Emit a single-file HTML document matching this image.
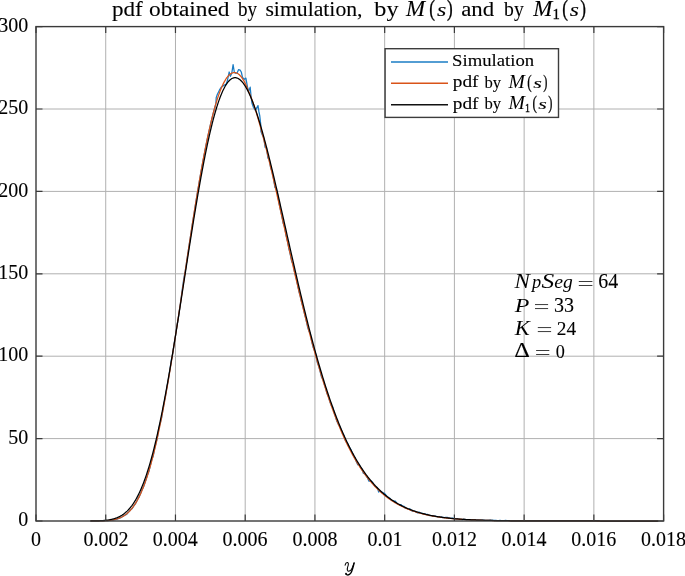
<!DOCTYPE html>
<html><head><meta charset="utf-8"><style>html,body{margin:0;padding:0;background:#fff;width:685px;height:576px;overflow:hidden}</style></head>
<body><svg width="685" height="576" viewBox="0 0 685 576" style="display:block;font-kerning:none;will-change:transform"><rect x="0" y="0" width="685" height="576" fill="#fff"/>
<path d="M105.73,26.60V521.00M175.47,26.60V521.00M245.20,26.60V521.00M314.93,26.60V521.00M384.67,26.60V521.00M454.40,26.60V521.00M524.13,26.60V521.00M593.87,26.60V521.00M36.00,438.60H663.60M36.00,356.20H663.60M36.00,273.80H663.60M36.00,191.40H663.60M36.00,109.00H663.60" stroke="#b0b0b0" stroke-width="1.0" fill="none"/>
<path d="M90.39,521.00 L91.79,520.99 L93.18,520.99 L94.58,520.98 L95.97,520.97 L97.37,520.96 L98.76,520.94 L100.15,520.92 L101.55,520.88 L102.94,520.84 L104.34,520.78 L105.73,520.67 L107.13,520.59 L108.52,520.53 L109.92,520.32 L111.31,520.08 L112.71,520.03 L114.10,519.68 L115.50,519.53 L116.89,519.09 L118.29,518.73 L119.68,517.97 L121.07,517.53 L122.47,516.54 L123.86,515.73 L125.26,514.86 L126.65,514.35 L128.05,512.68 L129.44,511.19 L130.84,509.62 L132.23,508.45 L133.63,506.24 L135.02,504.36 L136.42,502.04 L137.81,498.78 L139.21,496.85 L140.60,493.55 L141.99,489.89 L143.39,487.18 L144.78,483.22 L146.18,479.12 L147.57,474.89 L148.97,471.19 L150.36,465.56 L151.76,459.58 L153.15,456.29 L154.55,448.87 L155.94,443.51 L157.34,437.93 L158.73,429.24 L160.13,423.54 L161.52,418.32 L162.91,409.91 L164.31,401.94 L165.70,394.97 L167.10,386.14 L168.49,378.78 L169.89,369.64 L171.28,360.23 L172.68,353.96 L174.07,344.11 L175.47,335.96 L176.86,326.16 L178.26,318.68 L179.65,308.67 L181.05,298.88 L182.44,288.05 L183.83,278.33 L185.23,271.19 L186.62,261.87 L188.02,252.59 L189.41,243.38 L190.81,234.25 L192.20,225.22 L193.60,216.31 L194.99,207.54 L196.39,198.93 L197.78,190.50 L199.18,182.26 L200.57,174.22 L201.97,166.42 L203.36,158.85 L204.75,151.54 L206.15,144.49 L207.54,137.73 L208.94,131.26 L210.33,125.09 L211.73,119.24 L213.12,113.70 L214.52,108.50 L215.91,103.64 L216.20,97.60 L217.40,94.20 L219.40,90.20 L221.30,87.20 L223.70,85.40 L226.10,84.20 L227.30,81.10 L229.20,72.00 L230.40,76.30 L231.80,73.20 L233.10,64.70 L234.30,72.00 L235.50,73.20 L237.00,73.20 L238.60,69.60 L240.10,70.20 L241.30,72.00 L242.50,77.50 L244.40,79.30 L245.90,78.10 L247.40,86.60 L248.60,91.50 L250.20,87.20 L251.10,96.90 L251.90,103.00 L253.50,107.50 L255.40,110.40 L258.00,105.60 L258.90,111.70 L259.80,116.00 L260.80,125.00 L260.94,131.48 L262.33,135.07 L263.73,137.73 L265.12,147.50 L266.51,147.88 L267.91,158.01 L269.30,159.49 L270.70,168.07 L272.09,171.29 L273.49,178.40 L274.88,187.23 L276.28,188.80 L277.67,194.70 L279.07,203.36 L280.46,209.94 L281.86,216.03 L283.25,223.58 L284.65,226.66 L286.04,235.46 L287.43,240.99 L288.83,248.36 L290.25,254.34 L291.68,261.48 L293.11,264.00 L294.54,272.15 L295.97,276.67 L297.41,284.03 L298.84,290.98 L300.27,296.39 L301.70,302.55 L303.12,307.58 L304.55,313.79 L305.98,319.33 L307.41,326.24 L308.84,330.99 L310.26,333.36 L311.69,341.50 L313.12,347.16 L314.53,350.65 L315.93,354.46 L317.32,362.68 L318.72,366.11 L320.11,371.33 L321.51,377.20 L322.90,379.07 L324.30,384.35 L325.69,388.62 L327.09,393.73 L328.48,396.68 L329.87,401.74 L331.27,405.33 L332.66,406.90 L334.06,412.63 L335.45,416.47 L336.85,421.24 L338.24,424.07 L339.64,426.18 L341.03,429.52 L342.43,433.07 L343.82,435.17 L345.22,440.25 L346.61,442.37 L348.01,444.33 L349.40,447.27 L350.79,449.41 L352.19,452.80 L353.58,456.14 L354.98,457.82 L356.37,461.77 L357.77,464.81 L359.16,464.47 L360.56,467.36 L361.95,469.02 L363.35,473.34 L364.74,473.77 L366.14,475.91 L367.53,478.01 L368.93,481.23 L370.32,480.89 L371.71,481.28 L373.11,483.40 L374.50,485.89 L375.90,486.80 L377.29,487.50 L378.69,492.09 L380.08,491.00 L381.48,491.69 L382.87,492.80 L384.27,493.14 L385.66,494.76 L387.06,496.53 L388.45,497.59 L389.85,498.23 L391.24,500.20 L392.63,500.75 L394.03,500.97 L395.42,501.10 L396.82,503.40 L398.21,504.11 L399.61,504.71 L401.00,504.71 L402.40,506.28 L403.79,506.03 L405.19,508.14 L406.58,508.28 L407.98,508.87 L409.37,508.89 L410.77,509.30 L412.16,511.17 L413.55,511.34 L414.95,511.17 L416.34,512.11 L417.74,512.95 L419.13,512.15 L420.53,512.81 L421.92,513.19 L423.32,513.97 L424.71,513.68 L426.11,514.54 L427.50,514.32 L428.90,515.41 L430.29,515.67 L431.69,515.54 L433.08,516.13 L434.47,515.89 L435.87,516.27 L437.26,516.90 L438.66,516.78 L440.05,517.12 L441.45,516.92 L442.84,517.59 L444.24,517.70 L445.63,517.39 L447.03,517.28 L448.42,517.51 L449.82,518.19 L451.21,518.29 L452.61,518.09 L454.00,518.64 L455.39,518.96 L456.79,518.81 L458.18,518.85 L459.58,519.24 L460.97,519.50 L462.37,519.55 L463.76,519.20 L465.16,519.57 L466.55,519.53 L467.95,519.54 L469.34,519.54 L470.74,519.78 L472.13,519.70 L473.53,520.00 L474.92,519.97 L476.31,520.13 L477.71,519.84 L479.10,520.07 L480.50,520.22 L481.89,520.21 L483.29,520.24 L484.68,520.15 L486.08,520.49 L487.47,520.45 L488.87,520.40 L490.26,520.09 L491.66,520.31 L493.05,520.47 L494.45,520.40 L495.84,520.29 L497.23,520.56 L498.63,520.59 L500.02,520.46 L501.42,520.56 L502.81,520.56 L504.21,520.69 L505.60,520.49 L507.00,520.53 L508.39,520.65 L509.79,520.76 L511.18,520.78 L512.58,520.79 L513.97,520.80 L515.37,520.81 L516.76,520.82 L518.15,520.83 L519.55,520.84 L520.94,520.85 L522.34,520.86 L523.73,520.87 L525.13,520.88 L526.52,520.88 L527.92,520.89 L529.31,520.90 L530.71,520.90 L532.10,520.91 L533.50,520.91 L534.89,520.92 L536.29,520.92 L537.68,520.93 L539.07,520.93 L540.47,520.94 L541.86,520.94 L543.26,520.94 L544.65,520.95 L546.05,520.95 L547.44,520.95 L548.84,520.96 L550.23,520.96 L551.63,520.96 L553.02,520.96 L554.42,520.97 L555.81,520.97 L557.21,520.97 L558.60,520.97 L559.99,520.97 L561.39,520.98 L562.78,520.98 L564.18,520.98 L565.57,520.98 L566.97,520.98 L568.36,520.98 L569.76,520.98 L571.15,520.98 L572.55,520.98 L573.94,520.99 L575.34,520.99 L576.73,520.99 L578.13,520.99 L579.52,520.99 L580.91,520.99 L582.31,520.99 L583.70,520.99 L585.10,520.99 L586.49,520.99 L587.89,520.99 L589.28,520.99 L590.68,520.99 L592.07,520.99 L593.47,520.99 L594.86,520.99 L596.26,520.99 L597.65,521.00 L599.05,521.00 L600.44,521.00 L601.83,521.00 L603.23,521.00 L604.62,521.00 L606.02,521.00 L607.41,521.00 L608.81,521.00 L610.20,521.00 L611.60,521.00 L612.99,521.00 L614.39,521.00 L615.78,521.00 L617.18,521.00 L618.57,521.00 L619.97,521.00 L621.36,521.00 L622.75,521.00 L624.15,521.00 L625.54,521.00 L626.94,521.00 L628.33,521.00 L629.73,521.00 L631.12,521.00 L632.52,521.00 L633.91,521.00 L635.31,521.00 L636.70,521.00 L638.10,521.00 L639.49,521.00 L640.89,521.00 L642.28,521.00 L643.67,521.00 L645.07,521.00 L646.46,521.00 L647.86,521.00 L649.25,521.00 L650.65,521.00 L652.04,521.00 L653.44,521.00 L654.83,521.00 L656.23,521.00 L657.62,521.00" stroke="#1a7cc4" stroke-width="1.25" fill="none" stroke-linejoin="round"/>
<path d="M90.39,521.00 L90.91,520.99 L91.43,520.99 L91.94,520.99 L92.46,520.99 L92.98,520.99 L93.49,520.99 L94.01,520.99 L94.53,520.98 L95.04,520.98 L95.56,520.98 L96.08,520.97 L96.59,520.97 L97.11,520.96 L97.63,520.96 L98.14,520.95 L98.66,520.94 L99.18,520.94 L99.69,520.93 L100.21,520.92 L100.73,520.90 L101.25,520.89 L101.76,520.88 L102.28,520.86 L102.80,520.85 L103.31,520.83 L103.83,520.81 L104.35,520.78 L104.86,520.76 L105.38,520.73 L105.90,520.70 L106.41,520.67 L106.93,520.63 L107.45,520.59 L107.96,520.55 L108.48,520.50 L109.00,520.45 L109.51,520.40 L110.03,520.34 L110.55,520.27 L111.06,520.20 L111.58,520.13 L112.10,520.05 L112.61,519.96 L113.13,519.87 L113.65,519.77 L114.17,519.67 L114.68,519.55 L115.20,519.43 L115.72,519.30 L116.23,519.17 L116.75,519.02 L117.27,518.86 L117.78,518.70 L118.30,518.52 L118.82,518.34 L119.33,518.14 L119.85,517.93 L120.37,517.71 L120.88,517.47 L121.40,517.23 L121.92,516.97 L122.43,516.69 L122.95,516.40 L123.47,516.10 L123.98,515.78 L124.50,515.44 L125.02,515.09 L125.54,514.72 L126.05,514.33 L126.57,513.92 L127.09,513.50 L127.60,513.05 L128.12,512.58 L128.64,512.10 L129.15,511.59 L129.67,511.06 L130.19,510.51 L130.70,509.94 L131.22,509.34 L131.74,508.71 L132.25,508.07 L132.77,507.39 L133.29,506.70 L133.80,505.97 L134.32,505.22 L134.84,504.44 L135.35,503.63 L135.87,502.80 L136.39,501.93 L136.91,501.04 L137.42,500.11 L137.94,499.16 L138.46,498.17 L138.97,497.15 L139.49,496.10 L140.01,495.02 L140.52,493.91 L141.04,492.76 L141.56,491.57 L142.07,490.36 L142.59,489.11 L143.11,487.82 L143.62,486.50 L144.14,485.14 L144.66,483.75 L145.17,482.32 L145.69,480.85 L146.21,479.34 L146.72,477.80 L147.24,476.23 L147.76,474.61 L148.28,472.96 L148.79,471.27 L149.31,469.54 L149.83,467.77 L150.34,465.96 L150.86,464.12 L151.38,462.24 L151.89,460.32 L152.41,458.36 L152.93,456.36 L153.44,454.32 L153.96,452.25 L154.48,450.14 L154.99,447.99 L155.51,445.80 L156.03,443.57 L156.54,441.30 L157.06,439.00 L157.58,436.66 L158.09,434.28 L158.61,431.87 L159.13,429.42 L159.65,426.93 L160.16,424.41 L160.68,421.85 L161.20,419.26 L161.71,416.63 L162.23,413.97 L162.75,411.27 L163.26,408.54 L163.78,405.78 L164.30,402.99 L164.81,400.16 L165.33,397.30 L165.85,394.42 L166.36,391.50 L166.88,388.55 L167.40,385.57 L167.91,382.57 L168.43,379.54 L168.95,376.48 L169.46,373.39 L169.98,370.28 L170.50,367.15 L171.01,363.99 L171.53,360.81 L172.05,357.60 L172.57,354.38 L173.08,351.13 L173.60,347.87 L174.12,344.58 L174.63,341.28 L175.15,337.96 L175.67,334.63 L176.18,331.28 L176.70,327.91 L177.22,324.54 L177.73,321.15 L178.25,317.74 L178.77,314.33 L179.28,310.91 L179.80,307.48 L180.32,304.04 L180.83,300.60 L181.35,297.15 L181.87,293.69 L182.38,290.24 L182.90,286.78 L183.42,283.31 L183.94,279.85 L184.45,276.39 L184.97,272.93 L185.49,269.47 L186.00,266.02 L186.52,262.57 L187.04,259.12 L187.55,255.69 L188.07,252.26 L188.59,248.83 L189.10,245.42 L189.62,242.02 L190.14,238.63 L190.65,235.26 L191.17,231.89 L191.69,228.54 L192.20,225.21 L192.72,221.90 L193.24,218.60 L193.75,215.32 L194.27,212.06 L194.79,208.82 L195.31,205.60 L195.82,202.40 L196.34,199.23 L196.86,196.08 L197.37,192.95 L197.89,189.85 L198.41,186.78 L198.92,183.74 L199.44,180.72 L199.96,177.73 L200.47,174.78 L200.99,171.85 L201.51,168.96 L202.02,166.09 L202.54,163.27 L203.06,160.47 L203.57,157.71 L204.09,154.98 L204.61,152.29 L205.12,149.64 L205.64,147.03 L206.16,144.45 L206.68,141.91 L207.19,139.41 L207.71,136.95 L208.23,134.53 L208.74,132.15 L209.26,129.81 L209.78,127.52 L210.29,125.27 L210.81,123.06 L211.33,120.89 L211.84,118.77 L212.36,116.69 L212.88,114.66 L213.39,112.67 L213.91,110.73 L214.43,108.83 L214.94,106.98 L215.46,105.18 L215.98,103.42 L216.49,101.71 L217.01,100.05 L217.53,98.43 L218.04,96.87 L218.56,95.35 L219.08,93.88 L219.60,92.46 L220.11,91.08 L220.63,89.76 L221.15,88.49 L221.66,87.26 L222.18,86.09 L222.70,84.96 L223.21,83.88 L223.73,82.85 L224.25,81.87 L224.76,80.95 L225.28,80.07 L225.80,79.24 L226.31,78.46 L226.83,77.72 L227.35,77.04 L227.86,76.41 L228.38,75.82 L228.90,75.29 L229.41,74.80 L229.93,74.37 L230.45,73.98 L230.97,73.64 L231.48,73.35 L232.00,73.10 L232.52,72.91 L233.03,72.76 L233.55,72.66 L234.07,72.60 L234.55,72.59 L235.06,72.63 L235.58,72.72 L236.09,72.85 L236.59,73.03 L237.10,73.25 L237.60,73.52 L238.10,73.83 L238.60,74.18 L239.09,74.58 L239.58,75.03 L240.07,75.52 L240.56,76.05 L241.05,76.62 L241.53,77.23 L242.01,77.89 L242.49,78.58 L242.96,79.32 L243.44,80.10 L243.91,80.92 L244.38,81.77 L244.84,82.67 L245.31,83.60 L245.77,84.57 L246.23,85.58 L246.69,86.63 L247.15,87.71 L247.60,88.83 L248.05,89.99 L248.57,91.18 L249.09,92.40 L249.60,93.66 L250.12,94.95 L250.64,96.27 L251.15,97.63 L251.67,99.02 L252.19,100.44 L252.71,101.89 L253.22,103.37 L253.74,104.88 L254.26,106.42 L254.77,107.98 L255.29,109.58 L255.81,111.20 L256.32,112.85 L256.84,114.53 L257.36,116.23 L257.87,117.96 L258.39,119.71 L258.91,121.49 L259.42,123.29 L259.94,125.11 L260.46,126.96 L260.97,128.83 L261.49,130.72 L262.01,132.63 L262.52,134.56 L263.04,136.51 L263.56,138.48 L264.07,140.47 L264.59,142.47 L265.11,144.50 L265.63,146.54 L266.14,148.59 L266.66,150.67 L267.18,152.76 L267.69,154.86 L268.21,156.98 L268.73,159.11 L269.24,161.26 L269.76,163.42 L270.28,165.59 L270.79,167.77 L271.31,169.97 L271.83,172.17 L272.34,174.39 L272.86,176.61 L273.38,178.85 L273.89,181.09 L274.41,183.34 L274.93,185.60 L275.44,187.87 L275.96,190.15 L276.48,192.43 L277.00,194.72 L277.51,197.01 L278.03,199.31 L278.55,201.61 L279.06,203.92 L279.58,206.23 L280.10,208.54 L280.61,210.86 L281.13,213.18 L281.65,215.51 L282.16,217.83 L282.68,220.16 L283.20,222.49 L283.71,224.81 L284.23,227.14 L284.75,229.47 L285.26,231.80 L285.78,234.13 L286.30,236.45 L286.81,238.78 L287.33,241.10 L287.85,243.42 L288.37,245.74 L288.88,248.05 L289.40,250.36 L289.93,252.67 L290.46,254.97 L290.99,257.27 L291.52,259.57 L292.05,261.86 L292.58,264.15 L293.12,266.43 L293.65,268.70 L294.18,270.97 L294.71,273.23 L295.24,275.49 L295.77,277.74 L296.30,279.98 L296.83,282.22 L297.36,284.45 L297.89,286.67 L298.42,288.88 L298.95,291.08 L299.48,293.28 L300.01,295.47 L300.54,297.65 L301.07,299.82 L301.60,301.98 L302.13,304.13 L302.66,306.27 L303.19,308.40 L303.72,310.52 L304.25,312.64 L304.77,314.74 L305.30,316.83 L305.83,318.91 L306.36,320.98 L306.89,323.04 L307.42,325.09 L307.95,327.12 L308.48,329.15 L309.01,331.16 L309.54,333.17 L310.07,335.16 L310.59,337.14 L311.12,339.10 L311.65,341.06 L312.18,343.00 L312.71,344.93 L313.24,346.85 L313.76,348.76 L314.29,350.65 L314.81,352.53 L315.32,354.40 L315.84,356.26 L316.36,358.10 L316.87,359.93 L317.39,361.75 L317.91,363.55 L318.42,365.34 L318.94,367.12 L319.46,368.89 L319.97,370.64 L320.49,372.38 L321.01,374.10 L321.52,375.82 L322.04,377.52 L322.56,379.20 L323.07,380.87 L323.59,382.53 L324.11,384.18 L324.63,385.81 L325.14,387.43 L325.66,389.04 L326.18,390.63 L326.69,392.21 L327.21,393.77 L327.73,395.32 L328.24,396.86 L328.76,398.39 L329.28,399.90 L329.79,401.40 L330.31,402.88 L330.83,404.35 L331.34,405.81 L331.86,407.26 L332.38,408.69 L332.89,410.11 L333.41,411.51 L333.93,412.90 L334.44,414.28 L334.96,415.65 L335.48,417.00 L336.00,418.34 L336.51,419.67 L337.03,420.98 L337.55,422.28 L338.06,423.57 L338.58,424.84 L339.10,426.11 L339.61,427.36 L340.13,428.59 L340.65,429.82 L341.16,431.03 L341.68,432.23 L342.20,433.41 L342.71,434.59 L343.23,435.75 L343.75,436.90 L344.26,438.04 L344.78,439.16 L345.30,440.27 L345.81,441.38 L346.33,442.46 L346.85,443.54 L347.37,444.61 L347.88,445.66 L348.40,446.70 L348.92,447.73 L349.43,448.75 L349.95,449.76 L350.47,450.76 L350.98,451.74 L351.50,452.71 L352.02,453.68 L352.53,454.63 L353.05,455.57 L353.57,456.50 L354.08,457.42 L354.60,458.32 L355.12,459.22 L355.63,460.11 L356.15,460.98 L356.67,461.85 L357.18,462.70 L357.70,463.55 L358.22,464.38 L358.74,465.21 L359.25,466.02 L359.77,466.83 L360.29,467.62 L360.80,468.41 L361.32,469.18 L361.84,469.95 L362.35,470.70 L362.87,471.45 L363.39,472.19 L363.90,472.92 L364.42,473.63 L364.94,474.34 L365.45,475.04 L365.97,475.74 L366.49,476.42 L367.00,477.09 L367.52,477.76 L368.04,478.41 L368.55,479.06 L369.07,479.70 L369.59,480.33 L370.10,480.96 L370.62,481.57 L371.14,482.18 L371.66,482.78 L372.17,483.37 L372.69,483.95 L373.21,484.52 L373.72,485.09 L374.24,485.65 L374.76,486.20 L375.27,486.75 L375.79,487.28 L376.31,487.81 L376.82,488.33 L377.34,488.85 L377.86,489.36 L378.37,489.86 L378.89,490.35 L379.41,490.84 L379.92,491.32 L380.44,491.79 L380.96,492.26 L381.47,492.72 L381.99,493.17 L382.51,493.62 L383.03,494.06 L383.54,494.50 L384.06,494.93 L384.58,495.35 L385.09,495.76 L385.61,496.18 L386.13,496.58 L386.64,496.98 L387.16,497.37 L387.68,497.76 L388.19,498.14 L388.71,498.51 L389.23,498.89 L389.74,499.25 L390.26,499.61 L390.78,499.96 L391.29,500.31 L391.81,500.66 L392.33,500.99 L392.84,501.33 L393.36,501.66 L393.88,501.98 L394.40,502.30 L394.91,502.61 L395.43,502.92 L395.95,503.23 L396.46,503.53 L396.98,503.82 L397.50,504.11 L398.01,504.40 L398.53,504.68 L399.05,504.96 L399.56,505.23 L400.08,505.50 L400.60,505.76 L401.11,506.03 L401.63,506.28 L402.15,506.54 L402.66,506.78 L403.18,507.03 L403.70,507.27 L404.21,507.51 L404.73,507.74 L405.25,507.97 L405.77,508.20 L406.28,508.42 L406.80,508.64 L407.32,508.85 L407.83,509.07 L408.35,509.28 L408.87,509.48 L409.38,509.68 L409.90,509.88 L410.42,510.08 L410.93,510.27 L411.45,510.46 L411.97,510.65 L412.48,510.83 L413.00,511.01 L413.52,511.19 L414.03,511.36 L414.55,511.53 L415.07,511.70 L415.58,511.87 L416.10,512.03 L416.62,512.19 L417.13,512.35 L417.65,512.50 L418.17,512.66 L418.69,512.81 L419.20,512.96 L419.72,513.10 L420.24,513.24 L420.75,513.38 L421.27,513.52 L421.79,513.66 L422.30,513.79 L422.82,513.92 L423.34,514.05 L423.85,514.18 L424.37,514.30 L424.89,514.43 L425.40,514.55 L425.92,514.66 L426.44,514.78 L426.95,514.89 L427.47,515.01 L427.99,515.12 L428.50,515.23 L429.02,515.33 L429.54,515.44 L430.06,515.54 L430.57,515.64 L431.09,515.74 L431.61,515.84 L432.12,515.94 L432.64,516.03 L433.16,516.12 L433.67,516.21 L434.19,516.30 L434.71,516.39 L435.22,516.48 L435.74,516.56 L436.26,516.65 L436.77,516.73 L437.29,516.81 L437.81,516.89 L438.32,516.97 L438.84,517.04 L439.36,517.12 L439.87,517.19 L440.39,517.26 L440.91,517.33 L441.43,517.40 L441.94,517.47 L442.46,517.54 L442.98,517.61 L443.49,517.67 L444.01,517.73 L444.53,517.80 L445.04,517.86 L445.56,517.92 L446.08,517.98 L446.59,518.04 L447.11,518.09 L447.63,518.15 L448.14,518.21 L448.66,518.26 L449.18,518.31 L449.69,518.36 L450.21,518.42 L450.73,518.47 L451.24,518.51 L451.76,518.56 L452.28,518.61 L452.80,518.66 L453.31,518.70 L453.83,518.75 L454.35,518.79 L454.86,518.84 L455.38,518.88 L455.90,518.92 L456.41,518.96 L456.93,519.00 L457.45,519.04 L457.96,519.08 L458.48,519.12 L459.00,519.15 L459.51,519.19 L460.03,519.23 L460.55,519.26 L461.06,519.30 L461.58,519.33 L462.10,519.36 L462.61,519.40 L463.13,519.43 L463.65,519.46 L464.16,519.49 L464.68,519.52 L465.20,519.55 L465.72,519.58 L466.23,519.61 L466.75,519.63 L467.27,519.66 L467.78,519.69 L468.30,519.72 L468.82,519.74 L469.33,519.77 L469.85,519.79 L470.37,519.82 L470.88,519.84 L471.40,519.86 L471.92,519.89 L472.43,519.91 L472.95,519.93 L473.47,519.95 L473.98,519.97 L474.50,519.99 L475.02,520.02 L475.53,520.04 L476.05,520.05 L476.57,520.07 L477.09,520.09 L477.60,520.11 L478.12,520.13 L478.64,520.15 L479.15,520.17 L479.67,520.18 L480.19,520.20 L480.70,520.22 L481.22,520.23 L481.74,520.25 L482.25,520.26 L482.77,520.28 L483.29,520.29 L483.80,520.31 L484.32,520.32 L484.84,520.34 L485.35,520.35 L485.87,520.36 L486.39,520.38 L486.90,520.39 L487.42,520.40 L487.94,520.41 L488.46,520.43 L488.97,520.44 L489.49,520.45 L490.01,520.46 L490.52,520.47 L491.04,520.48 L491.56,520.50 L492.07,520.51 L492.59,520.52 L493.11,520.53 L493.62,520.54 L494.14,520.55 L494.66,520.56 L495.17,520.56 L495.69,520.57 L496.21,520.58 L496.72,520.59 L497.24,520.60 L497.76,520.61 L498.27,520.62 L498.79,520.63 L499.31,520.63 L499.83,520.64 L500.34,520.65 L500.86,520.66 L501.38,520.66 L501.89,520.67 L502.41,520.68 L502.93,520.68 L503.44,520.69 L503.96,520.70 L504.48,520.70 L504.99,520.71 L505.51,520.72 L506.03,520.72 L506.54,520.73 L507.06,520.73 L507.58,520.74 L508.09,520.75 L508.61,520.75 L509.13,520.76 L509.64,520.76 L510.16,520.77 L510.68,520.77 L511.19,520.78 L511.71,520.78 L512.23,520.79 L512.75,520.79 L513.26,520.80 L513.78,520.80 L514.30,520.80 L514.81,520.81 L515.33,520.81 L515.85,520.82 L516.36,520.82 L516.88,520.82 L517.40,520.83 L517.91,520.83 L518.43,520.84 L518.95,520.84 L519.46,520.84 L519.98,520.85 L520.50,520.85 L521.01,520.85 L521.53,520.86 L522.05,520.86 L522.56,520.86 L523.08,520.87 L523.60,520.87 L524.12,520.87 L524.63,520.87 L525.15,520.88 L525.67,520.88 L526.18,520.88 L526.70,520.88 L527.22,520.89 L527.73,520.89 L528.25,520.89 L528.77,520.89 L529.28,520.90 L529.80,520.90 L530.32,520.90 L530.83,520.90 L531.35,520.91 L531.87,520.91 L532.38,520.91 L532.90,520.91 L533.42,520.91 L533.93,520.92 L534.45,520.92 L534.97,520.92 L535.49,520.92 L536.00,520.92 L536.52,520.92 L537.04,520.93 L537.55,520.93 L538.07,520.93 L538.59,520.93 L539.10,520.93 L539.62,520.93 L540.14,520.94 L540.65,520.94 L541.17,520.94 L541.69,520.94 L542.20,520.94 L542.72,520.94 L543.24,520.94 L543.75,520.95 L544.27,520.95 L544.79,520.95 L545.30,520.95 L545.82,520.95 L546.34,520.95 L546.86,520.95 L547.37,520.95 L547.89,520.95 L548.41,520.96 L548.92,520.96 L549.44,520.96 L549.96,520.96 L550.47,520.96 L550.99,520.96 L551.51,520.96 L552.02,520.96 L552.54,520.96 L553.06,520.96 L553.57,520.96 L554.09,520.97 L554.61,520.97 L555.12,520.97 L555.64,520.97 L556.16,520.97 L556.67,520.97 L557.19,520.97 L557.71,520.97 L558.23,520.97 L558.74,520.97 L559.26,520.97 L559.78,520.97 L560.29,520.97 L560.81,520.97 L561.33,520.98 L561.84,520.98 L562.36,520.98 L562.88,520.98 L563.39,520.98 L563.91,520.98 L564.43,520.98 L564.94,520.98 L565.46,520.98 L565.98,520.98 L566.49,520.98 L567.01,520.98 L567.53,520.98 L568.04,520.98 L568.56,520.98 L569.08,520.98 L569.59,520.98 L570.11,520.98 L570.63,520.98 L571.15,520.98 L571.66,520.98 L572.18,520.98 L572.70,520.99 L573.21,520.99 L573.73,520.99 L574.25,520.99 L574.76,520.99 L575.28,520.99 L575.80,520.99 L576.31,520.99 L576.83,520.99 L577.35,520.99 L577.86,520.99 L578.38,520.99 L578.90,520.99 L579.41,520.99 L579.93,520.99 L580.45,520.99 L580.96,520.99 L581.48,520.99 L582.00,520.99 L582.52,520.99 L583.03,520.99 L583.55,520.99 L584.07,520.99 L584.58,520.99 L585.10,520.99 L585.62,520.99 L586.13,520.99 L586.65,520.99 L587.17,520.99 L587.68,520.99 L588.20,520.99 L588.72,520.99 L589.23,520.99 L589.75,520.99 L590.27,520.99 L590.78,520.99 L591.30,520.99 L591.82,520.99 L592.33,520.99 L592.85,520.99 L593.37,520.99 L593.89,520.99 L594.40,520.99 L594.92,520.99 L595.44,520.99 L595.95,520.99 L596.47,521.00 L596.99,521.00 L597.50,521.00 L598.02,521.00 L598.54,521.00 L599.05,521.00 L599.57,521.00 L600.09,521.00 L600.60,521.00 L601.12,521.00 L601.64,521.00 L602.15,521.00 L602.67,521.00 L603.19,521.00 L603.70,521.00 L604.22,521.00 L604.74,521.00 L605.26,521.00 L605.77,521.00 L606.29,521.00 L606.81,521.00 L607.32,521.00 L607.84,521.00 L608.36,521.00 L608.87,521.00 L609.39,521.00 L609.91,521.00 L610.42,521.00 L610.94,521.00 L611.46,521.00 L611.97,521.00 L612.49,521.00 L613.01,521.00 L613.52,521.00 L614.04,521.00 L614.56,521.00 L615.07,521.00 L615.59,521.00 L616.11,521.00 L616.62,521.00 L617.14,521.00 L617.66,521.00 L618.18,521.00 L618.69,521.00 L619.21,521.00 L619.73,521.00 L620.24,521.00 L620.76,521.00 L621.28,521.00 L621.79,521.00 L622.31,521.00 L622.83,521.00 L623.34,521.00 L623.86,521.00 L624.38,521.00 L624.89,521.00 L625.41,521.00 L625.93,521.00 L626.44,521.00 L626.96,521.00 L627.48,521.00 L627.99,521.00 L628.51,521.00 L629.03,521.00 L629.55,521.00 L630.06,521.00 L630.58,521.00 L631.10,521.00 L631.61,521.00 L632.13,521.00 L632.65,521.00 L633.16,521.00 L633.68,521.00 L634.20,521.00 L634.71,521.00 L635.23,521.00 L635.75,521.00 L636.26,521.00 L636.78,521.00 L637.30,521.00 L637.81,521.00 L638.33,521.00 L638.85,521.00 L639.36,521.00 L639.88,521.00 L640.40,521.00 L640.92,521.00 L641.43,521.00 L641.95,521.00 L642.47,521.00 L642.98,521.00 L643.50,521.00 L644.02,521.00 L644.53,521.00 L645.05,521.00 L645.57,521.00 L646.08,521.00 L646.60,521.00 L647.12,521.00 L647.63,521.00 L648.15,521.00 L648.67,521.00 L649.18,521.00 L649.70,521.00 L650.22,521.00 L650.73,521.00 L651.25,521.00 L651.77,521.00 L652.29,521.00 L652.80,521.00 L653.32,521.00 L653.84,521.00 L654.35,521.00 L654.87,521.00 L655.39,521.00 L655.90,521.00 L656.42,521.00 L656.94,521.00 L657.45,521.00 L657.97,521.00" stroke="#d95319" stroke-width="1.25" fill="none"/>
<path d="M90.39,520.96 L90.91,520.96 L91.43,520.95 L91.94,520.95 L92.46,520.94 L92.98,520.93 L93.49,520.93 L94.01,520.92 L94.53,520.91 L95.04,520.90 L95.56,520.89 L96.08,520.88 L96.59,520.86 L97.11,520.85 L97.63,520.83 L98.14,520.81 L98.66,520.79 L99.18,520.77 L99.69,520.75 L100.21,520.73 L100.73,520.70 L101.25,520.67 L101.76,520.64 L102.28,520.61 L102.80,520.57 L103.31,520.53 L103.83,520.49 L104.35,520.44 L104.86,520.40 L105.38,520.34 L105.90,520.29 L106.41,520.23 L106.93,520.16 L107.45,520.10 L107.96,520.02 L108.48,519.95 L109.00,519.86 L109.51,519.77 L110.03,519.68 L110.55,519.58 L111.06,519.47 L111.58,519.36 L112.10,519.24 L112.61,519.11 L113.13,518.98 L113.65,518.84 L114.17,518.69 L114.68,518.53 L115.20,518.36 L115.72,518.18 L116.23,518.00 L116.75,517.80 L117.27,517.59 L117.78,517.37 L118.30,517.15 L118.82,516.91 L119.33,516.65 L119.85,516.39 L120.37,516.11 L120.88,515.82 L121.40,515.51 L121.92,515.19 L122.43,514.86 L122.95,514.51 L123.47,514.15 L123.98,513.77 L124.50,513.37 L125.02,512.95 L125.54,512.52 L126.05,512.07 L126.57,511.60 L127.09,511.12 L127.60,510.61 L128.12,510.08 L128.64,509.53 L129.15,508.97 L129.67,508.38 L130.19,507.77 L130.70,507.13 L131.22,506.47 L131.74,505.79 L132.25,505.09 L132.77,504.36 L133.29,503.61 L133.80,502.83 L134.32,502.02 L134.84,501.19 L135.35,500.33 L135.87,499.45 L136.39,498.54 L136.91,497.60 L137.42,496.63 L137.94,495.63 L138.46,494.60 L138.97,493.54 L139.49,492.46 L140.01,491.34 L140.52,490.19 L141.04,489.01 L141.56,487.80 L142.07,486.55 L142.59,485.28 L143.11,483.97 L143.62,482.63 L144.14,481.25 L144.66,479.84 L145.17,478.40 L145.69,476.93 L146.21,475.42 L146.72,473.87 L147.24,472.29 L147.76,470.68 L148.28,469.03 L148.79,467.34 L149.31,465.63 L149.83,463.87 L150.34,462.08 L150.86,460.26 L151.38,458.39 L151.89,456.50 L152.41,454.57 L152.93,452.60 L153.44,450.60 L153.96,448.56 L154.48,446.48 L154.99,444.38 L155.51,442.23 L156.03,440.05 L156.54,437.84 L157.06,435.59 L157.58,433.31 L158.09,430.99 L158.61,428.64 L159.13,426.25 L159.65,423.83 L160.16,421.38 L160.68,418.90 L161.20,416.38 L161.71,413.83 L162.23,411.25 L162.75,408.64 L163.26,405.99 L163.78,403.32 L164.30,400.62 L164.81,397.88 L165.33,395.12 L165.85,392.33 L166.36,389.51 L166.88,386.66 L167.40,383.79 L167.91,380.89 L168.43,377.96 L168.95,375.01 L169.46,372.04 L169.98,369.04 L170.50,366.02 L171.01,362.97 L171.53,359.91 L172.05,356.82 L172.57,353.71 L173.08,350.59 L173.60,347.44 L174.12,344.28 L174.63,341.10 L175.15,337.91 L175.67,334.69 L176.18,331.47 L176.70,328.23 L177.22,324.97 L177.73,321.71 L178.25,318.43 L178.77,315.15 L179.28,311.85 L179.80,308.55 L180.32,305.24 L180.83,301.92 L181.35,298.59 L181.87,295.26 L182.38,291.93 L182.90,288.59 L183.42,285.25 L183.94,281.91 L184.45,278.57 L184.97,275.24 L185.49,271.90 L186.00,268.56 L186.52,265.23 L187.04,261.91 L187.55,258.58 L188.07,255.27 L188.59,251.96 L189.10,248.66 L189.62,245.37 L190.14,242.10 L190.65,238.83 L191.17,235.57 L191.69,232.33 L192.20,229.10 L192.72,225.88 L193.24,222.69 L193.75,219.50 L194.27,216.34 L194.79,213.19 L195.31,210.07 L195.82,206.96 L196.34,203.88 L196.86,200.81 L197.37,197.77 L197.89,194.76 L198.41,191.76 L198.92,188.80 L199.44,185.86 L199.96,182.94 L200.47,180.06 L200.99,177.20 L201.51,174.37 L202.02,171.57 L202.54,168.81 L203.06,166.07 L203.57,163.37 L204.09,160.70 L204.61,158.06 L205.12,155.46 L205.64,152.89 L206.16,150.36 L206.68,147.86 L207.19,145.40 L207.71,142.98 L208.23,140.60 L208.74,138.25 L209.26,135.94 L209.78,133.68 L210.29,131.45 L210.81,129.26 L211.33,127.12 L211.84,125.02 L212.36,122.95 L212.88,120.94 L213.39,118.96 L213.91,117.03 L214.43,115.14 L214.94,113.29 L215.46,111.49 L215.98,109.74 L216.49,108.03 L217.01,106.36 L217.53,104.74 L218.04,103.17 L218.56,101.64 L219.08,100.16 L219.60,98.72 L220.11,97.33 L220.63,95.99 L221.15,94.70 L221.66,93.45 L222.18,92.25 L222.70,91.10 L223.21,89.99 L223.73,88.94 L224.25,87.93 L224.76,86.97 L225.28,86.05 L225.80,85.19 L226.31,84.37 L226.83,83.60 L227.35,82.88 L227.86,82.20 L228.38,81.57 L228.90,81.00 L229.41,80.46 L229.93,79.98 L230.45,79.54 L230.97,79.15 L231.48,78.81 L232.00,78.51 L232.52,78.26 L233.03,78.06 L233.55,77.90 L234.07,77.79 L234.58,77.73 L235.10,77.71 L235.62,77.74 L236.13,77.81 L236.65,77.92 L237.17,78.08 L237.68,78.29 L238.20,78.54 L238.72,78.83 L239.23,79.17 L239.75,79.55 L240.27,79.97 L240.78,80.43 L241.30,80.94 L241.82,81.48 L242.34,82.07 L242.85,82.70 L243.37,83.37 L243.89,84.08 L244.40,84.83 L244.92,85.62 L245.44,86.44 L245.95,87.31 L246.47,88.21 L246.99,89.15 L247.50,90.13 L248.02,91.14 L248.54,92.19 L249.05,93.27 L249.57,94.39 L250.09,95.55 L250.60,96.74 L251.12,97.96 L251.64,99.21 L252.15,100.50 L252.67,101.82 L253.19,103.17 L253.71,104.55 L254.22,105.96 L254.74,107.40 L255.26,108.88 L255.77,110.38 L256.29,111.91 L256.81,113.46 L257.32,115.05 L257.84,116.66 L258.36,118.29 L258.87,119.96 L259.39,121.64 L259.91,123.36 L260.42,125.09 L260.94,126.85 L261.46,128.63 L261.97,130.44 L262.49,132.27 L263.01,134.12 L263.52,135.99 L264.04,137.88 L264.56,139.79 L265.07,141.72 L265.59,143.66 L266.11,145.63 L266.63,147.61 L267.14,149.61 L267.66,151.63 L268.18,153.67 L268.69,155.72 L269.21,157.78 L269.73,159.86 L270.24,161.95 L270.76,164.06 L271.28,166.18 L271.79,168.31 L272.31,170.46 L272.83,172.61 L273.34,174.78 L273.86,176.96 L274.38,179.15 L274.89,181.35 L275.41,183.55 L275.93,185.77 L276.44,187.99 L276.96,190.22 L277.48,192.46 L278.00,194.71 L278.51,196.96 L279.03,199.22 L279.55,201.48 L280.06,203.75 L280.58,206.02 L281.10,208.30 L281.61,210.58 L282.13,212.87 L282.65,215.16 L283.16,217.45 L283.68,219.74 L284.20,222.03 L284.71,224.33 L285.23,226.62 L285.75,228.92 L286.26,231.22 L286.78,233.52 L287.30,235.81 L287.81,238.11 L288.33,240.40 L288.85,242.70 L289.37,244.99 L289.88,247.28 L290.40,249.57 L290.92,251.85 L291.43,254.13 L291.95,256.41 L292.47,258.68 L292.98,260.95 L293.50,263.21 L294.02,265.47 L294.53,267.73 L295.05,269.98 L295.57,272.22 L296.08,274.46 L296.60,276.69 L297.12,278.92 L297.63,281.14 L298.15,283.35 L298.67,285.55 L299.18,287.75 L299.70,289.94 L300.22,292.12 L300.74,294.30 L301.25,296.46 L301.77,298.62 L302.29,300.77 L302.80,302.91 L303.32,305.04 L303.84,307.16 L304.35,309.28 L304.87,311.38 L305.39,313.47 L305.90,315.56 L306.42,317.63 L306.94,319.69 L307.45,321.74 L307.97,323.78 L308.49,325.82 L309.00,327.84 L309.52,329.84 L310.04,331.84 L310.55,333.83 L311.07,335.80 L311.59,337.77 L312.10,339.72 L312.62,341.66 L313.14,343.59 L313.66,345.50 L314.17,347.41 L314.69,349.30 L315.21,351.18 L315.72,353.05 L316.24,354.90 L316.76,356.74 L317.27,358.58 L317.79,360.39 L318.31,362.20 L318.82,363.99 L319.34,365.77 L319.86,367.54 L320.37,369.29 L320.89,371.03 L321.41,372.76 L321.92,374.47 L322.44,376.17 L322.96,377.86 L323.47,379.54 L323.99,381.20 L324.51,382.85 L325.03,384.48 L325.54,386.11 L326.06,387.72 L326.58,389.31 L327.09,390.90 L327.61,392.47 L328.13,394.02 L328.64,395.57 L329.16,397.10 L329.68,398.61 L330.19,400.12 L330.71,401.61 L331.23,403.08 L331.74,404.55 L332.26,406.00 L332.78,407.43 L333.29,408.86 L333.81,410.27 L334.33,411.67 L334.84,413.05 L335.36,414.43 L335.88,415.78 L336.40,417.13 L336.91,418.46 L337.43,419.78 L337.95,421.09 L338.46,422.39 L338.98,423.67 L339.50,424.94 L340.01,426.19 L340.53,427.44 L341.05,428.67 L341.56,429.89 L342.08,431.10 L342.60,432.29 L343.11,433.47 L343.63,434.64 L344.15,435.80 L344.66,436.94 L345.18,438.08 L345.70,439.20 L346.21,440.31 L346.73,441.40 L347.25,442.49 L347.77,443.56 L348.28,444.62 L348.80,445.67 L349.32,446.71 L349.83,447.74 L350.35,448.75 L350.87,449.76 L351.38,450.75 L351.90,451.73 L352.42,452.70 L352.93,453.66 L353.45,454.61 L353.97,455.55 L354.48,456.47 L355.00,457.39 L355.52,458.30 L356.03,459.19 L356.55,460.07 L357.07,460.95 L357.58,461.81 L358.10,462.66 L358.62,463.51 L359.14,464.34 L359.65,465.16 L360.17,465.97 L360.69,466.78 L361.20,467.57 L361.72,468.35 L362.24,469.13 L362.75,469.89 L363.27,470.64 L363.79,471.39 L364.30,472.12 L364.82,472.85 L365.34,473.57 L365.85,474.28 L366.37,474.97 L366.89,475.67 L367.40,476.35 L367.92,477.02 L368.44,477.68 L368.95,478.34 L369.47,478.99 L369.99,479.62 L370.50,480.25 L371.02,480.88 L371.54,481.49 L372.06,482.09 L372.57,482.69 L373.09,483.28 L373.61,483.86 L374.12,484.44 L374.64,485.00 L375.16,485.56 L375.67,486.11 L376.19,486.66 L376.71,487.19 L377.22,487.72 L377.74,488.24 L378.26,488.76 L378.77,489.27 L379.29,489.77 L379.81,490.26 L380.32,490.75 L380.84,491.23 L381.36,491.70 L381.87,492.17 L382.39,492.63 L382.91,493.08 L383.43,493.53 L383.94,493.97 L384.46,494.40 L384.98,494.83 L385.49,495.25 L386.01,495.67 L386.53,496.08 L387.04,496.48 L387.56,496.88 L388.08,497.27 L388.59,497.66 L389.11,498.04 L389.63,498.42 L390.14,498.79 L390.66,499.15 L391.18,499.51 L391.69,499.87 L392.21,500.22 L392.73,500.56 L393.24,500.90 L393.76,501.23 L394.28,501.56 L394.80,501.88 L395.31,502.20 L395.83,502.52 L396.35,502.83 L396.86,503.13 L397.38,503.43 L397.90,503.73 L398.41,504.02 L398.93,504.30 L399.45,504.59 L399.96,504.86 L400.48,505.14 L401.00,505.41 L401.51,505.67 L402.03,505.93 L402.55,506.19 L403.06,506.44 L403.58,506.69 L404.10,506.94 L404.61,507.18 L405.13,507.42 L405.65,507.65 L406.17,507.88 L406.68,508.11 L407.20,508.33 L407.72,508.55 L408.23,508.77 L408.75,508.98 L409.27,509.19 L409.78,509.39 L410.30,509.60 L410.82,509.80 L411.33,509.99 L411.85,510.19 L412.37,510.38 L412.88,510.56 L413.40,510.75 L413.92,510.93 L414.43,511.10 L414.95,511.28 L415.47,511.45 L415.98,511.62 L416.50,511.79 L417.02,511.95 L417.53,512.11 L418.05,512.27 L418.57,512.43 L419.09,512.58 L419.60,512.73 L420.12,512.88 L420.64,513.02 L421.15,513.17 L421.67,513.31 L422.19,513.45 L422.70,513.58 L423.22,513.72 L423.74,513.85 L424.25,513.98 L424.77,514.11 L425.29,514.23 L425.80,514.35 L426.32,514.48 L426.84,514.59 L427.35,514.71 L427.87,514.83 L428.39,514.94 L428.90,515.05 L429.42,515.16 L429.94,515.27 L430.46,515.37 L430.97,515.48 L431.49,515.58 L432.01,515.68 L432.52,515.78 L433.04,515.87 L433.56,515.97 L434.07,516.06 L434.59,516.15 L435.11,516.24 L435.62,516.33 L436.14,516.42 L436.66,516.50 L437.17,516.59 L437.69,516.67 L438.21,516.75 L438.72,516.83 L439.24,516.91 L439.76,516.99 L440.27,517.06 L440.79,517.14 L441.31,517.21 L441.83,517.28 L442.34,517.35 L442.86,517.42 L443.38,517.49 L443.89,517.55 L444.41,517.62 L444.93,517.68 L445.44,517.75 L445.96,517.81 L446.48,517.87 L446.99,517.93 L447.51,517.99 L448.03,518.05 L448.54,518.10 L449.06,518.16 L449.58,518.21 L450.09,518.27 L450.61,518.32 L451.13,518.37 L451.64,518.42 L452.16,518.47 L452.68,518.52 L453.20,518.57 L453.71,518.61 L454.23,518.66 L454.75,518.71 L455.26,518.75 L455.78,518.79 L456.30,518.84 L456.81,518.88 L457.33,518.92 L457.85,518.96 L458.36,519.00 L458.88,519.04 L459.40,519.08 L459.91,519.12 L460.43,519.15 L460.95,519.19 L461.46,519.22 L461.98,519.26 L462.50,519.29 L463.01,519.33 L463.53,519.36 L464.05,519.39 L464.56,519.42 L465.08,519.46 L465.60,519.49 L466.12,519.52 L466.63,519.55 L467.15,519.57 L467.67,519.60 L468.18,519.63 L468.70,519.66 L469.22,519.68 L469.73,519.71 L470.25,519.74 L470.77,519.76 L471.28,519.79 L471.80,519.81 L472.32,519.83 L472.83,519.86 L473.35,519.88 L473.87,519.90 L474.38,519.93 L474.90,519.95 L475.42,519.97 L475.93,519.99 L476.45,520.01 L476.97,520.03 L477.49,520.05 L478.00,520.07 L478.52,520.09 L479.04,520.11 L479.55,520.12 L480.07,520.14 L480.59,520.16 L481.10,520.18 L481.62,520.19 L482.14,520.21 L482.65,520.23 L483.17,520.24 L483.69,520.26 L484.20,520.27 L484.72,520.29 L485.24,520.30 L485.75,520.32 L486.27,520.33 L486.79,520.34 L487.30,520.36 L487.82,520.37 L488.34,520.38 L488.86,520.40 L489.37,520.41 L489.89,520.42 L490.41,520.43 L490.92,520.44 L491.44,520.46 L491.96,520.47 L492.47,520.48 L492.99,520.49 L493.51,520.50 L494.02,520.51 L494.54,520.52 L495.06,520.53 L495.57,520.54 L496.09,520.55 L496.61,520.56 L497.12,520.57 L497.64,520.58 L498.16,520.59 L498.67,520.59 L499.19,520.60 L499.71,520.61 L500.23,520.62 L500.74,520.63 L501.26,520.64 L501.78,520.64 L502.29,520.65 L502.81,520.66 L503.33,520.66 L503.84,520.67 L504.36,520.68 L504.88,520.69 L505.39,520.69 L505.91,520.70 L506.43,520.71 L506.94,520.71 L507.46,520.72 L507.98,520.72 L508.49,520.73 L509.01,520.74 L509.53,520.74 L510.04,520.75 L510.56,520.75 L511.08,520.76 L511.59,520.76 L512.11,520.77 L512.63,520.77 L513.15,520.78 L513.66,520.78 L514.18,520.79 L514.70,520.79 L515.21,520.80 L515.73,520.80 L516.25,520.80 L516.76,520.81 L517.28,520.81 L517.80,520.82 L518.31,520.82 L518.83,520.82 L519.35,520.83 L519.86,520.83 L520.38,520.84 L520.90,520.84 L521.41,520.84 L521.93,520.85 L522.45,520.85 L522.96,520.85 L523.48,520.86 L524.00,520.86 L524.52,520.86 L525.03,520.86 L525.55,520.87 L526.07,520.87 L526.58,520.87 L527.10,520.88 L527.62,520.88 L528.13,520.88 L528.65,520.88 L529.17,520.89 L529.68,520.89 L530.20,520.89 L530.72,520.89 L531.23,520.90 L531.75,520.90 L532.27,520.90 L532.78,520.90 L533.30,520.90 L533.82,520.91 L534.33,520.91 L534.85,520.91 L535.37,520.91 L535.89,520.91 L536.40,520.92 L536.92,520.92 L537.44,520.92 L537.95,520.92 L538.47,520.92 L538.99,520.93 L539.50,520.93 L540.02,520.93 L540.54,520.93 L541.05,520.93 L541.57,520.93 L542.09,520.93 L542.60,520.94 L543.12,520.94 L543.64,520.94 L544.15,520.94 L544.67,520.94 L545.19,520.94 L545.70,520.94 L546.22,520.95 L546.74,520.95 L547.26,520.95 L547.77,520.95 L548.29,520.95 L548.81,520.95 L549.32,520.95 L549.84,520.95 L550.36,520.95 L550.87,520.96 L551.39,520.96 L551.91,520.96 L552.42,520.96 L552.94,520.96 L553.46,520.96 L553.97,520.96 L554.49,520.96 L555.01,520.96 L555.52,520.96 L556.04,520.96 L556.56,520.97 L557.07,520.97 L557.59,520.97 L558.11,520.97 L558.63,520.97 L559.14,520.97 L559.66,520.97 L560.18,520.97 L560.69,520.97 L561.21,520.97 L561.73,520.97 L562.24,520.97 L562.76,520.97 L563.28,520.97 L563.79,520.97 L564.31,520.98 L564.83,520.98 L565.34,520.98 L565.86,520.98 L566.38,520.98 L566.89,520.98 L567.41,520.98 L567.93,520.98 L568.44,520.98 L568.96,520.98 L569.48,520.98 L569.99,520.98 L570.51,520.98 L571.03,520.98 L571.55,520.98 L572.06,520.98 L572.58,520.98 L573.10,520.98 L573.61,520.98 L574.13,520.98 L574.65,520.98 L575.16,520.98 L575.68,520.99 L576.20,520.99 L576.71,520.99 L577.23,520.99 L577.75,520.99 L578.26,520.99 L578.78,520.99 L579.30,520.99 L579.81,520.99 L580.33,520.99 L580.85,520.99 L581.36,520.99 L581.88,520.99 L582.40,520.99 L582.92,520.99 L583.43,520.99 L583.95,520.99 L584.47,520.99 L584.98,520.99 L585.50,520.99 L586.02,520.99 L586.53,520.99 L587.05,520.99 L587.57,520.99 L588.08,520.99 L588.60,520.99 L589.12,520.99 L589.63,520.99 L590.15,520.99 L590.67,520.99 L591.18,520.99 L591.70,520.99 L592.22,520.99 L592.73,520.99 L593.25,520.99 L593.77,520.99 L594.29,520.99 L594.80,520.99 L595.32,520.99 L595.84,520.99 L596.35,520.99 L596.87,520.99 L597.39,520.99 L597.90,520.99 L598.42,520.99 L598.94,520.99 L599.45,520.99 L599.97,521.00 L600.49,521.00 L601.00,521.00 L601.52,521.00 L602.04,521.00 L602.55,521.00 L603.07,521.00 L603.59,521.00 L604.10,521.00 L604.62,521.00 L605.14,521.00 L605.66,521.00 L606.17,521.00 L606.69,521.00 L607.21,521.00 L607.72,521.00 L608.24,521.00 L608.76,521.00 L609.27,521.00 L609.79,521.00 L610.31,521.00 L610.82,521.00 L611.34,521.00 L611.86,521.00 L612.37,521.00 L612.89,521.00 L613.41,521.00 L613.92,521.00 L614.44,521.00 L614.96,521.00 L615.47,521.00 L615.99,521.00 L616.51,521.00 L617.02,521.00 L617.54,521.00 L618.06,521.00 L618.58,521.00 L619.09,521.00 L619.61,521.00 L620.13,521.00 L620.64,521.00 L621.16,521.00 L621.68,521.00 L622.19,521.00 L622.71,521.00 L623.23,521.00 L623.74,521.00 L624.26,521.00 L624.78,521.00 L625.29,521.00 L625.81,521.00 L626.33,521.00 L626.84,521.00 L627.36,521.00 L627.88,521.00 L628.39,521.00 L628.91,521.00 L629.43,521.00 L629.95,521.00 L630.46,521.00 L630.98,521.00 L631.50,521.00 L632.01,521.00 L632.53,521.00 L633.05,521.00 L633.56,521.00 L634.08,521.00 L634.60,521.00 L635.11,521.00 L635.63,521.00 L636.15,521.00 L636.66,521.00 L637.18,521.00 L637.70,521.00 L638.21,521.00 L638.73,521.00 L639.25,521.00 L639.76,521.00 L640.28,521.00 L640.80,521.00 L641.32,521.00 L641.83,521.00 L642.35,521.00 L642.87,521.00 L643.38,521.00 L643.90,521.00 L644.42,521.00 L644.93,521.00 L645.45,521.00 L645.97,521.00 L646.48,521.00 L647.00,521.00 L647.52,521.00 L648.03,521.00 L648.55,521.00 L649.07,521.00 L649.58,521.00 L650.10,521.00 L650.62,521.00 L651.13,521.00 L651.65,521.00 L652.17,521.00 L652.69,521.00 L653.20,521.00 L653.72,521.00 L654.24,521.00 L654.75,521.00 L655.27,521.00 L655.79,521.00 L656.30,521.00 L656.82,521.00 L657.34,521.00 L657.85,521.00 L658.37,521.00" stroke="#000" stroke-width="1.25" fill="none"/>
<path d="M36.00,521.00v-6.5M36.00,26.60v6.5M105.73,521.00v-6.5M105.73,26.60v6.5M175.47,521.00v-6.5M175.47,26.60v6.5M245.20,521.00v-6.5M245.20,26.60v6.5M314.93,521.00v-6.5M314.93,26.60v6.5M384.67,521.00v-6.5M384.67,26.60v6.5M454.40,521.00v-6.5M454.40,26.60v6.5M524.13,521.00v-6.5M524.13,26.60v6.5M593.87,521.00v-6.5M593.87,26.60v6.5M663.60,521.00v-6.5M663.60,26.60v6.5M36.00,521.00h6.5M663.60,521.00h-6.5M36.00,438.60h6.5M663.60,438.60h-6.5M36.00,356.20h6.5M663.60,356.20h-6.5M36.00,273.80h6.5M663.60,273.80h-6.5M36.00,191.40h6.5M663.60,191.40h-6.5M36.00,109.00h6.5M663.60,109.00h-6.5M36.00,26.60h6.5M663.60,26.60h-6.5" stroke="#3a3a3a" stroke-width="1.2" fill="none"/>
<rect x="36.0" y="26.6" width="627.6" height="494.4" stroke="#3a3a3a" stroke-width="1.4" fill="none"/>
<text transform="translate(31.00,545.90) scale(1.0000,1)" font-family='"Liberation Serif", serif' font-style="normal" font-size="20" fill="#000" stroke="#000" stroke-width="0.1" >0</text>
<text transform="translate(83.40,545.90) scale(1.0000,1)" font-family='"Liberation Serif", serif' font-style="normal" font-size="20" fill="#000" stroke="#000" stroke-width="0.1" >0.002</text>
<text transform="translate(152.74,545.90) scale(1.0000,1)" font-family='"Liberation Serif", serif' font-style="normal" font-size="20" fill="#000" stroke="#000" stroke-width="0.1" >0.004</text>
<text transform="translate(222.62,545.90) scale(1.0000,1)" font-family='"Liberation Serif", serif' font-style="normal" font-size="20" fill="#000" stroke="#000" stroke-width="0.1" >0.006</text>
<text transform="translate(292.43,545.90) scale(1.0000,1)" font-family='"Liberation Serif", serif' font-style="normal" font-size="20" fill="#000" stroke="#000" stroke-width="0.1" >0.008</text>
<text transform="translate(367.39,545.90) scale(1.0000,1)" font-family='"Liberation Serif", serif' font-style="normal" font-size="20" fill="#000" stroke="#000" stroke-width="0.1" >0.01</text>
<text transform="translate(432.07,545.90) scale(1.0000,1)" font-family='"Liberation Serif", serif' font-style="normal" font-size="20" fill="#000" stroke="#000" stroke-width="0.1" >0.012</text>
<text transform="translate(501.41,545.90) scale(1.0000,1)" font-family='"Liberation Serif", serif' font-style="normal" font-size="20" fill="#000" stroke="#000" stroke-width="0.1" >0.014</text>
<text transform="translate(571.28,545.90) scale(1.0000,1)" font-family='"Liberation Serif", serif' font-style="normal" font-size="20" fill="#000" stroke="#000" stroke-width="0.1" >0.016</text>
<text transform="translate(641.10,545.90) scale(1.0000,1)" font-family='"Liberation Serif", serif' font-style="normal" font-size="20" fill="#000" stroke="#000" stroke-width="0.1" >0.018</text>
<text transform="translate(18.36,526.20) scale(1.0000,1)" font-family='"Liberation Serif", serif' font-style="normal" font-size="20" fill="#000" stroke="#000" stroke-width="0.1" >0</text>
<text transform="translate(8.36,443.80) scale(1.0000,1)" font-family='"Liberation Serif", serif' font-style="normal" font-size="20" fill="#000" stroke="#000" stroke-width="0.1" >50</text>
<text transform="translate(-1.64,361.40) scale(1.0000,1)" font-family='"Liberation Serif", serif' font-style="normal" font-size="20" fill="#000" stroke="#000" stroke-width="0.1" >100</text>
<text transform="translate(-1.64,279.00) scale(1.0000,1)" font-family='"Liberation Serif", serif' font-style="normal" font-size="20" fill="#000" stroke="#000" stroke-width="0.1" >150</text>
<text transform="translate(-1.64,196.60) scale(1.0000,1)" font-family='"Liberation Serif", serif' font-style="normal" font-size="20" fill="#000" stroke="#000" stroke-width="0.1" >200</text>
<text transform="translate(-1.64,114.20) scale(1.0000,1)" font-family='"Liberation Serif", serif' font-style="normal" font-size="20" fill="#000" stroke="#000" stroke-width="0.1" >250</text>
<text transform="translate(-1.64,31.80) scale(1.0000,1)" font-family='"Liberation Serif", serif' font-style="normal" font-size="20" fill="#000" stroke="#000" stroke-width="0.1" >300</text>
<g fill="none" stroke="#000" stroke-linecap="round" stroke-linejoin="round"><path d="M345.1,565.2 C345.5,563.4 346.6,562.5 347.5,562.6 C348.5,562.8 348.5,564.2 348.1,565.5 C347.5,567.3 346.9,569.0 347.4,570.3 C347.9,571.5 349.6,571.5 350.8,570.2 C352.0,568.8 353.2,565.5 354.0,563.1" stroke-width="1.05"/><path d="M354.1,563.0 C353.3,566.5 352.4,570.3 350.9,572.9 C349.7,574.8 347.6,575.2 346.3,574.5" stroke-width="1.35"/><circle cx="346.0" cy="573.8" r="0.95" fill="#000" stroke="none"/></g>
<text transform="translate(112.03,15.74) scale(1.0993,0.9763)" font-family='"Liberation Serif", serif' font-style="normal" font-size="21" fill="#000" stroke="#000" stroke-width="0.1">pdf</text>
<text transform="translate(149.11,16.00) scale(1.1129,1)" font-family='"Liberation Serif", serif' font-style="normal" font-size="21" fill="#000" stroke="#000" stroke-width="0.1" >obtained</text>
<text transform="translate(238.00,16.00) scale(0.9083,1)" font-family='"Liberation Serif", serif' font-style="normal" font-size="21" fill="#000" stroke="#000" stroke-width="0.1" >by</text>
<text transform="translate(265.41,16.00) scale(1.0345,1)" font-family='"Liberation Serif", serif' font-style="normal" font-size="21" fill="#000" stroke="#000" stroke-width="0.1" >simulation,</text>
<text transform="translate(374.30,16.00) scale(1.1521,1)" font-family='"Liberation Serif", serif' font-style="normal" font-size="21" fill="#000" stroke="#000" stroke-width="0.1" >by</text>
<text transform="translate(461.20,16.00) scale(1.0878,1)" font-family='"Liberation Serif", serif' font-style="normal" font-size="21" fill="#000" stroke="#000" stroke-width="0.1" >and</text>
<text transform="translate(504.10,16.00) scale(0.9370,1)" font-family='"Liberation Serif", serif' font-style="normal" font-size="21" fill="#000" stroke="#000" stroke-width="0.1" >by</text>
<text transform="translate(406.07,15.90) scale(1.0907,1.0545)" font-family='"Liberation Serif", serif' font-style="italic" font-size="21" fill="#000" stroke="#000" stroke-width="0.1">M</text>
<text transform="translate(429.35,16.07) scale(0.8158,1.1029)" font-family='"Liberation Serif", serif' font-style="normal" font-size="21" fill="#000" stroke="#000" stroke-width="0.3">(</text>
<text transform="translate(436.91,16.02) scale(1.1401,0.8713)" font-family='"Liberation Serif", serif' font-style="italic" font-size="21" fill="#000" stroke="#000" stroke-width="0.1">s</text>
<text transform="translate(446.95,16.07) scale(0.8158,1.1029)" font-family='"Liberation Serif", serif' font-style="normal" font-size="21" fill="#000" stroke="#000" stroke-width="0.3">)</text>
<text transform="translate(533.17,15.90) scale(1.0907,1.0545)" font-family='"Liberation Serif", serif' font-style="italic" font-size="21" fill="#000" stroke="#000" stroke-width="0.1">M</text>
<text transform="translate(552.40,18.80) scale(0.9847,0.9190)" font-family='"Liberation Serif", serif' font-style="normal" font-size="15" fill="#000" stroke="#000" stroke-width="0.3">1</text>
<text transform="translate(562.35,16.07) scale(0.8158,1.1029)" font-family='"Liberation Serif", serif' font-style="normal" font-size="21" fill="#000" stroke="#000" stroke-width="0.3">(</text>
<text transform="translate(569.81,16.02) scale(1.1263,0.8713)" font-family='"Liberation Serif", serif' font-style="italic" font-size="21" fill="#000" stroke="#000" stroke-width="0.1">s</text>
<text transform="translate(580.15,16.07) scale(0.8158,1.1029)" font-family='"Liberation Serif", serif' font-style="normal" font-size="21" fill="#000" stroke="#000" stroke-width="0.3">)</text>
<rect x="385.1" y="48.7" width="173.4" height="68.7" fill="#fff" stroke="#3c3c3c" stroke-width="1.4"/>
<path d="M391,61.9H448" stroke="#1a7cc4" stroke-width="1.45"/>
<path d="M391,83.3H448" stroke="#d95319" stroke-width="1.45"/>
<path d="M391,104.8H448" stroke="#111" stroke-width="1.45"/>
<text transform="translate(452.05,66.00) scale(1.0707,1)" font-family='"Liberation Serif", serif' font-style="normal" font-size="17.5" fill="#000" stroke="#000" stroke-width="0.1" >Simulation</text>
<text transform="translate(452.79,87.30) scale(1.1022,0.9659)" font-family='"Liberation Serif", serif' font-style="normal" font-size="17.5" fill="#000" stroke="#000" stroke-width="0.1">pdf</text>
<text transform="translate(484.50,87.50) scale(0.9523,1)" font-family='"Liberation Serif", serif' font-style="normal" font-size="17.5" fill="#000" stroke="#000" stroke-width="0.1" >by</text>
<text transform="translate(508.53,87.60) scale(1.1228,1.0472)" font-family='"Liberation Serif", serif' font-style="italic" font-size="17.5" fill="#000">M</text>
<text transform="translate(527.32,87.68) scale(0.7565,1.0524)" font-family='"Liberation Serif", serif' font-style="normal" font-size="17.5" fill="#000" stroke="#000" stroke-width="0.25">(</text>
<text transform="translate(533.33,87.55) scale(1.2692,0.8673)" font-family='"Liberation Serif", serif' font-style="italic" font-size="17.5" fill="#000" stroke="#000" stroke-width="0.1">s</text>
<text transform="translate(543.20,87.68) scale(0.7120,1.0524)" font-family='"Liberation Serif", serif' font-style="normal" font-size="17.5" fill="#000" stroke="#000" stroke-width="0.25">)</text>
<text transform="translate(452.79,108.50) scale(1.1022,0.9659)" font-family='"Liberation Serif", serif' font-style="normal" font-size="17.5" fill="#000" stroke="#000" stroke-width="0.1">pdf</text>
<text transform="translate(484.50,108.70) scale(0.9523,1)" font-family='"Liberation Serif", serif' font-style="normal" font-size="17.5" fill="#000" stroke="#000" stroke-width="0.1" >by</text>
<text transform="translate(508.53,108.80) scale(1.1228,1.0472)" font-family='"Liberation Serif", serif' font-style="italic" font-size="17.5" fill="#000">M</text>
<text transform="translate(525.03,111.60) scale(0.7953,1.0664)" font-family='"Liberation Serif", serif' font-style="normal" font-size="12.5" fill="#000" stroke="#000" stroke-width="0.3">1</text>
<text transform="translate(532.62,109.06) scale(0.7565,1.0587)" font-family='"Liberation Serif", serif' font-style="normal" font-size="17.5" fill="#000" stroke="#000" stroke-width="0.25">(</text>
<text transform="translate(538.13,108.55) scale(1.2527,0.8554)" font-family='"Liberation Serif", serif' font-style="italic" font-size="17.5" fill="#000" stroke="#000" stroke-width="0.1">s</text>
<text transform="translate(548.20,109.06) scale(0.7120,1.0587)" font-family='"Liberation Serif", serif' font-style="normal" font-size="17.5" fill="#000" stroke="#000" stroke-width="0.25">)</text>
<text transform="translate(514.47,288.10) scale(1.1517,1.0080)" font-family='"Liberation Serif", serif' font-style="italic" font-size="20" fill="#000">N</text>
<text transform="translate(531.98,287.81) scale(0.9180,0.9136)" font-family='"Liberation Serif", serif' font-style="italic" font-size="20" fill="#000">p</text>
<text transform="translate(541.50,288.49) scale(1.2707,1.0865)" font-family='"Liberation Serif", serif' font-style="italic" font-size="20" fill="#000">S</text>
<text transform="translate(554.19,288.21) scale(0.9856,0.9564)" font-family='"Liberation Serif", serif' font-style="italic" font-size="20" fill="#000">e</text>
<text transform="translate(562.99,288.01) scale(0.9783,0.9362)" font-family='"Liberation Serif", serif' font-style="italic" font-size="20" fill="#000">g</text>
<rect x="578.80" y="281.00" width="13.60" height="0.85" fill="#1a1a1a"/><rect x="578.80" y="285.00" width="13.60" height="0.85" fill="#1a1a1a"/>
<text transform="translate(598.25,288.40) scale(0.9932,1.0047)" font-family='"Liberation Serif", serif' font-style="normal" font-size="20" fill="#000" stroke="#000" stroke-width="0.1">64</text>
<text transform="translate(514.73,311.60) scale(1.1933,0.9927)" font-family='"Liberation Serif", serif' font-style="italic" font-size="20" fill="#000">P</text>
<rect x="535.00" y="304.20" width="13.10" height="0.85" fill="#1a1a1a"/><rect x="535.00" y="308.20" width="13.10" height="0.85" fill="#1a1a1a"/>
<text transform="translate(554.04,311.60) scale(1.0021,1.0047)" font-family='"Liberation Serif", serif' font-style="normal" font-size="20" fill="#000" stroke="#000" stroke-width="0.1">33</text>
<text transform="translate(514.86,334.60) scale(1.1293,1.0232)" font-family='"Liberation Serif", serif' font-style="italic" font-size="20" fill="#000">K</text>
<rect x="537.80" y="327.20" width="13.30" height="0.85" fill="#1a1a1a"/><rect x="537.80" y="331.20" width="13.30" height="0.85" fill="#1a1a1a"/>
<text transform="translate(556.85,334.60) scale(0.9676,0.9817)" font-family='"Liberation Serif", serif' font-style="normal" font-size="20" fill="#000" stroke="#000" stroke-width="0.1">24</text>
<text transform="translate(514.17,357.40) scale(1.2161,1.0073)" font-family='"Liberation Serif", serif' font-style="normal" font-size="20" fill="#000" stroke="#000" stroke-width="0.1">Δ</text>
<rect x="536.10" y="350.00" width="13.20" height="0.85" fill="#1a1a1a"/><rect x="536.10" y="354.00" width="13.20" height="0.85" fill="#1a1a1a"/>
<text transform="translate(555.81,357.61) scale(0.9084,0.9855)" font-family='"Liberation Serif", serif' font-style="normal" font-size="20" fill="#000" stroke="#000" stroke-width="0.1">0</text></svg></body></html>
